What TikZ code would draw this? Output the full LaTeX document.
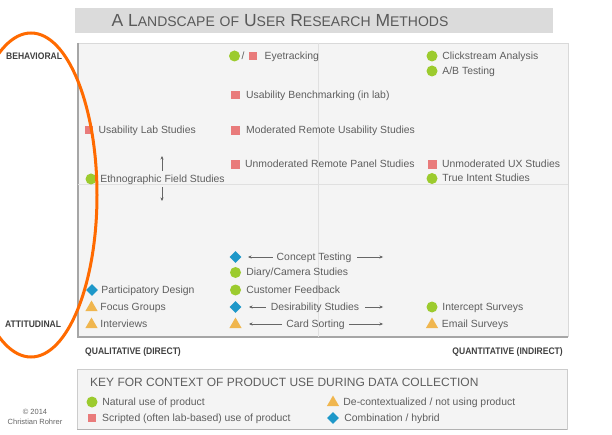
\documentclass[tikz,border=0pt]{standalone}
\usepackage{graphicx}
\usepackage{fontspec}
\setmainfont{Liberation Sans}
\usetikzlibrary{positioning,shapes.geometric,arrows.meta}

\definecolor{txtgray}{HTML}{5E5E5E}
\definecolor{natgreen}{HTML}{9CCB2E}
\definecolor{labred}{HTML}{E97B7B}
\definecolor{decoyel}{HTML}{F0B64E}
\definecolor{hybblue}{HTML}{1E98C9}
\definecolor{framefill}{HTML}{F4F4F4}
\definecolor{hiorange}{HTML}{FF6A00}

\newcommand{\smallcap}[1]{{\fontsize{14}{14}\selectfont #1}}
\newcommand{\axislbl}[1]{\scalebox{0.9}[1]{\bfseries #1}}

\begin{document}
\begin{tikzpicture}[x=1pt, y=-1pt,
    >={Stealth[length=3.5pt,width=3pt]},
    lbl/.style={anchor=west, inner xsep=0pt, inner ysep=4pt, text height=7.5pt, text depth=1pt,
        font=\fontsize{10.4}{12}\selectfont, text=txtgray},
    dot/.style={circle, fill=natgreen, minimum size=11pt, inner sep=0pt},
    sq/.style={rectangle, fill=labred, minimum size=8.5pt, inner sep=0pt},
    tri/.style={regular polygon, regular polygon sides=3, fill=decoyel, minimum size=14pt, inner sep=0pt},
    dia/.style={diamond, fill=hybblue, minimum size=12pt, inner sep=0pt},
    axis/.style={font=\fontsize{9.5}{11}\selectfont, text=black!75, inner sep=0pt},
    arr/.style={->, draw=black!60, thin}]
    \useasboundingbox (0, 0) rectangle (612, 435);
    \fill[white] (0, 0) rectangle (612, 435);

    % title bar
    \fill[black!14] (75, 8) rectangle (553, 33);
    \node[font=\fontsize{17.5}{18}\selectfont, text=black!65] (ttl) at (280, 21)
        {A L\smallcap{ANDSCAPE} \smallcap{OF} U\smallcap{SER} R\smallcap{ESEARCH} M\smallcap{ETHODS}};

    % plot frame
    \fill[framefill] (78, 43) rectangle (568, 337);
    \draw[black!15] (78, 43) -- (568, 43) -- (568, 337);
    \draw[black!35, line width=1.5pt] (78, 43) -- (78, 337) -- (568, 337);
    \draw[black!12] (318, 43) -- (318, 337);
    \draw[black!12] (78, 184) -- (568, 184);

    % axis labels
    \node[axis, anchor=west] (beh) at (6, 56) {\axislbl{BEHAVIORAL}};
    \node[axis, anchor=west] (att) at (5, 324) {\axislbl{ATTITUDINAL}};
    \node[axis, anchor=west] (qual) at (85, 352) {\axislbl{QUALITATIVE (DIRECT)}};
    \node[axis, anchor=east] (quan) at (563, 352) {\axislbl{QUANTITATIVE (INDIRECT)}};

    % left column
    \node[sq] (ulsM) at (89, 130) {};
    \node[lbl, right=5pt of ulsM] (uls) {Usability Lab Studies};
    \node[dot] (efsM) at (91, 179) {};
    \node[lbl, right=3.5pt of efsM] (efs) {Ethnographic Field Studies};
    \coordinate (efsUp) at (162, 156);
    \coordinate (efsDn) at (162, 201);
    \draw[arr] (efs.north -| efsUp) -- (efsUp);
    \draw[arr] (efs.south -| efsDn) -- (efsDn);
    \node[dia] (pdM) at (92, 290) {};
    \node[lbl, right=3pt of pdM] (pd) {Participatory Design};
    \node[tri] (fgM) at (91.5, 307.5) {};
    \node[lbl, right=4.5pt of fgM] (fg) {Focus Groups};
    \node[tri] (intM) at (91.5, 324.5) {};
    \node[lbl, right=4.5pt of intM] (int) {Interviews};

    % middle column
    \node[dot] (eyeM) at (234.5, 56) {};
    \node[lbl, anchor=center] (eyeS) at (243, 56) {/};
    \node[sq] (eyeR) at (253, 56) {};
    \node[lbl, right=7pt of eyeR] (eye) {Eyetracking};
    \node[sq] (ubM) at (235.5, 95) {};
    \node[lbl, right=6pt of ubM] (ub) {Usability Benchmarking (in lab)};
    \node[sq] (mrM) at (235.5, 130.5) {};
    \node[lbl, right=6pt of mrM] (mr) {Moderated Remote Usability Studies};
    \node[sq] (urM) at (235.5, 164.5) {};
    \node[lbl, right=5pt of urM] (ur) {Unmoderated Remote Panel Studies};

    \node[dia] (ctM) at (235.5, 257) {};
    \node[lbl, anchor=center] (ct) at (314, 257) {Concept Testing};
    \coordinate (ctL) at (248, 257);
    \coordinate (ctR) at (383, 257);
    \draw[arr, shorten <=4pt] (ct.west) -- (ctL);
    \draw[arr, shorten <=6pt] (ct.east) -- (ctR);
    \node[dot] (dcM) at (235.5, 272.5) {};
    \node[lbl, right=5pt of dcM] (dc) {Diary/Camera Studies};
    \node[dot] (cfM) at (235.5, 290) {};
    \node[lbl, right=5pt of cfM] (cf) {Customer Feedback};
    \node[dia] (dsM) at (235.5, 307) {};
    \node[lbl, anchor=center] (ds) at (315, 307) {Desirability Studies};
    \coordinate (dsL) at (249, 307);
    \coordinate (dsR) at (383, 307);
    \draw[arr, shorten <=5pt] (ds.west) -- (dsL);
    \draw[arr, shorten <=6pt] (ds.east) -- (dsR);
    \node[tri] (csM) at (235.5, 324.5) {};
    \node[lbl, anchor=center] (cs) at (315.5, 324) {Card Sorting};
    \coordinate (csL) at (249, 324);
    \coordinate (csR) at (383, 324);
    \draw[arr, shorten <=4pt] (cs.west) -- (csL);
    \draw[arr, shorten <=4pt] (cs.east) -- (csR);

    % right column
    \node[dot] (caM) at (432, 56) {};
    \node[lbl, right=4.5pt of caM] (ca) {Clickstream Analysis};
    \node[dot] (abM) at (432, 71) {};
    \node[lbl, right=4.5pt of abM] (ab) {A/B Testing};
    \node[sq] (uxM) at (432.5, 164.5) {};
    \node[lbl, right=5pt of uxM] (ux) {Unmoderated UX Studies};
    \node[dot] (tiM) at (432, 178.5) {};
    \node[lbl, right=4.5pt of tiM] (ti) {True Intent Studies};
    \node[dot] (isM) at (432, 307) {};
    \node[lbl, right=4.5pt of isM] (is) {Intercept Surveys};
    \node[tri] (esM) at (432, 324.5) {};
    \node[lbl, right=5.5pt of esM] (es) {Email Surveys};

    % key
    \fill[framefill] (77, 369) rectangle (567, 429);
    \draw[black!20] (77, 369) rectangle (567, 429);
    \draw[black!30] (77, 429) -- (567, 429);
    \node[lbl, font=\fontsize{12}{14}\selectfont, text height=8.5pt] (keyT) at (90, 383)
        {KEY FOR CONTEXT OF PRODUCT USE DURING DATA COLLECTION};
    \node[dot] (k1M) at (92, 402) {};
    \node[lbl, right=4.5pt of k1M] (k1) {Natural use of product};
    \node[sq] (k2M) at (92, 418) {};
    \node[lbl, right=5.5pt of k2M] (k2) {Scripted (often lab-based) use of product};
    \node[tri] (k3M) at (333, 402.5) {};
    \node[lbl, right=6pt of k3M] (k3) {De-contextualized / not using product};
    \node[dia] (k4M) at (333, 418) {};
    \node[lbl, right=5pt of k4M] (k4) {Combination / hybrid};

    % credit
    \node[font=\fontsize{7.5}{9}\selectfont, text=black!60, inner sep=0pt] (cpy) at (35, 412) {\textcopyright\ 2014};
    \node[font=\fontsize{7.5}{9}\selectfont, text=black!60, inner sep=0pt] (auth) at (35, 422) {Christian Rohrer};

    % highlight
    \draw[hiorange, line width=3pt] (31, 195) ellipse [x radius=66pt, y radius=162pt];
\end{tikzpicture}
\end{document}
